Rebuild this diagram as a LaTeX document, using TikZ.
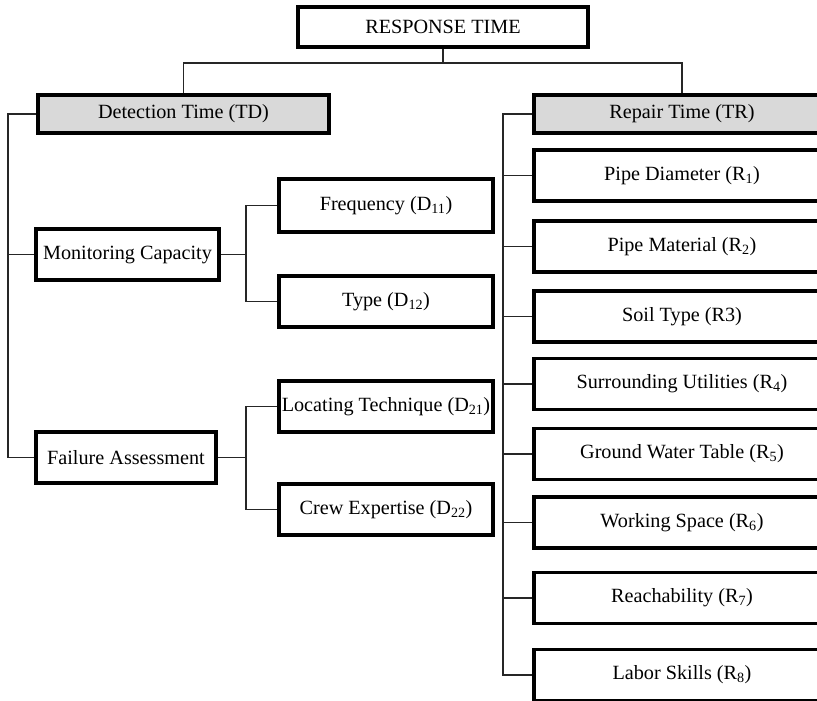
\documentclass[tikz,border=0pt]{standalone}
\usepackage{fontspec}
\setmainfont{Liberation Serif}
\begin{document}
\begin{tikzpicture}[x=1pt,y=-1pt,
  box/.style={draw=black,line width=3.6pt,fill=white,inner sep=0pt,font=\fontsize{20.2}{23}\selectfont},
  headbox/.style={box,fill=gray!30},
  rbox/.style={box,minimum width=296pt,minimum height=51pt},
  conn/.style={draw=black!85,line width=1.3pt}]
\useasboundingbox (0,0) rectangle (817,701);
\clip (0,0) rectangle (817,701);
\fill[white] (0,0) rectangle (817,701);
% nodes (centre, size)
\node[box,minimum width=290pt,minimum height=40pt] (RT) at (443,27) {RESPONSE TIME};
\node[headbox,minimum width=291pt,minimum height=38pt] (TD) at (183.5,114) {Detection Time (TD)};
\node[headbox,minimum width=296pt,minimum height=38pt] (TR) at (682,114) {Repair Time (TR)};
\node[box,minimum width=183pt,minimum height=51pt] (MC) at (127.5,254.5) {Monitoring Capacity};
\node[box,minimum width=180pt,minimum height=51pt] (FA) at (126,457.5) {Failure Assessment};
\node[box,minimum width=214pt,minimum height=53pt] (F1) at (386,205.5) {Frequency (D\textsubscript{11})};
\node[box,minimum width=214pt,minimum height=51pt] (F2) at (386,301.5) {Type (D\textsubscript{12})};
\node[box,minimum width=214pt,minimum height=51pt] (F3) at (386,406.5) {Locating Technique (D\textsubscript{21})};
\node[box,minimum width=214pt,minimum height=51pt] (F4) at (386,509.5) {Crew Expertise (D\textsubscript{22})};
\node[rbox] (R1) at (682,175.5) {Pipe Diameter (R\textsubscript{1})};
\node[rbox] (R2) at (682,246.5) {Pipe Material (R\textsubscript{2})};
\node[rbox] (R3) at (682,316.5) {Soil Type (R3)};
\node[rbox] (R4) at (682,384) {Surrounding Utilities (R\textsubscript{4})};
\node[rbox] (R5) at (682,454) {Ground Water Table (R\textsubscript{5})};
\node[rbox] (R6) at (682,522.5) {Working Space (R\textsubscript{6})};
\node[rbox] (R7) at (682,598) {Reachability (R\textsubscript{7})};
\node[rbox] (R8) at (682,675) {Labor Skills (R\textsubscript{8})};
% junction coordinates
\coordinate (top) at (443,63);
\coordinate (lt) at (8,0);
\coordinate (mt) at (246,0);
\coordinate (rt) at (503,0);
% connectors
\draw[conn] (RT.south) -- (top);
\draw[conn] (TD.north) |- (top) -| (TR.north);
\draw[conn] (TD.west) -- (TD.west -| lt) |- (FA.west);
\draw[conn] (MC.west) -- (MC.west -| lt);
\draw[conn] (MC.east) -- (MC.east -| mt);
\draw[conn] (F1.west) -- (F1.west -| mt) |- (F2.west);
\draw[conn] (FA.east) -- (FA.east -| mt);
\draw[conn] (F3.west) -- (F3.west -| mt) |- (F4.west);
\draw[conn] (TR.west) -- (TR.west -| rt) |- (R8.west);
\foreach \n in {R1,R2,R3,R4,R5,R6,R7}
  \draw[conn] (\n.west) -- (\n.west -| rt);
\end{tikzpicture}
\end{document}
